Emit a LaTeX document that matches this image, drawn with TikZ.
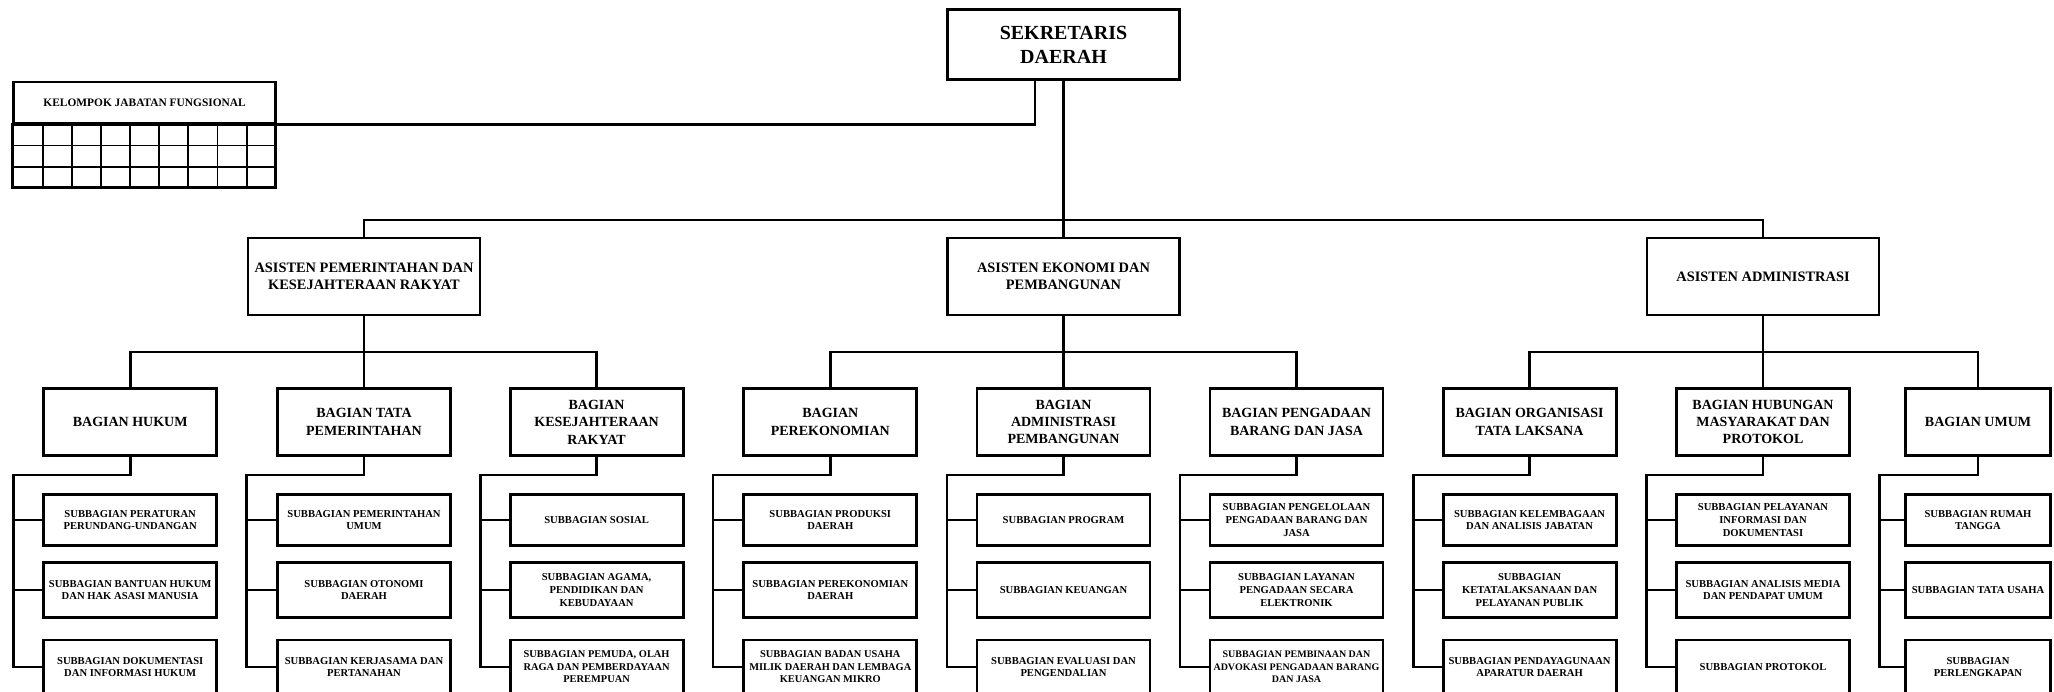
\documentclass[tikz,border=0pt]{standalone}
\usepackage{fontspec}
\setmainfont{Liberation Serif}
\usetikzlibrary{calc}
\tikzset{
  lw/.style={line width=2.8pt},
  box/.style={draw, lw, align=center, inner sep=1pt, font=\bfseries},
  sekbox/.style={box, minimum width=232pt, minimum height=70pt, font=\bfseries\fontsize{20}{24}\selectfont},
  astbox/.style={box, minimum width=232pt, minimum height=77pt, font=\bfseries\fontsize{14.4}{17.6}\selectfont},
  bagbox/.style={box, minimum width=173pt, minimum height=67pt, font=\bfseries\fontsize{14}{17.4}\selectfont},
  subbox/.style={box, minimum width=173pt, font=\bfseries\fontsize{10.6}{12.8}\selectfont},
  sa/.style={subbox, minimum height=51pt},
  sb/.style={subbox, minimum height=55pt},
  sc/.style={subbox, minimum height=54pt},
  umw/.style={minimum width=145pt},
  kjfbox/.style={box, minimum width=261.5pt, minimum height=41pt, font=\bfseries\fontsize{11.4}{12}\selectfont},
  conn/.style={lw},
  grid/.style={line width=1.6pt},
}
\begin{document}
\begin{tikzpicture}[x=1pt,y=-1pt]
\useasboundingbox (0,0) rectangle (2054,692);
\clip (0,0) rectangle (2054,692);
\fill[white] (0,0) rectangle (2054,692);

% top
\node[sekbox] (sekda) at (1063.5,44.5) {SEKRETARIS\\DAERAH};
\node[kjfbox] (kjf) at (144.6,102.5) {KELOMPOK JABATAN FUNGSIONAL};
\draw[grid] (kjf.south west) rectangle (275.4,187.9);
\foreach \y in {145.7,167.3} \draw[grid] (13.9,\y) -- (275.4,\y);
\foreach \x in {42.9,71.9,100.9,129.9,158.9,187.9,217.4,246.9} \draw[grid] (\x,124.3) -- (\x,187.9);
\draw[lw] (kjf.south west) rectangle (275.4,187.9);

% asisten
\node[astbox] (ast1) at (364,276.5) {ASISTEN PEMERINTAHAN DAN\\KESEJAHTERAAN RAKYAT};
\node[astbox] (ast2) at (1063.5,276.5) {ASISTEN EKONOMI DAN\\PEMBANGUNAN};
\node[astbox] (ast3) at (1763,276.5) {ASISTEN ADMINISTRASI};

% bagian
\node[bagbox] (b1) at (130.2,422) {BAGIAN HUKUM};
\node[bagbox] (b2) at (364,422) {BAGIAN TATA\\PEMERINTAHAN};
\node[bagbox] (b3) at (596.6,422) {BAGIAN\\KESEJAHTERAAN\\RAKYAT};
\node[bagbox] (b4) at (830.3,422) {BAGIAN\\PEREKONOMIAN};
\node[bagbox] (b5) at (1063.5,422) {BAGIAN\\ADMINISTRASI\\PEMBANGUNAN};
\node[bagbox] (b6) at (1296.5,422) {BAGIAN PENGADAAN\\BARANG DAN JASA};
\node[bagbox] (b7) at (1529.6,422) {BAGIAN ORGANISASI\\TATA LAKSANA};
\node[bagbox] (b8) at (1763,422) {BAGIAN HUBUNGAN\\MASYARAKAT DAN\\PROTOKOL};
\node[bagbox, umw] (b9) at (1978,422) {BAGIAN UMUM};

% subbagian
\node[sa] (s11) at (130.2,520) {SUBBAGIAN PERATURAN\\PERUNDANG-UNDANGAN};
\node[sb] (s12) at (130.2,590) {SUBBAGIAN BANTUAN HUKUM\\DAN HAK ASASI MANUSIA};
\node[sc] (s13) at (130.2,667) {SUBBAGIAN DOKUMENTASI\\DAN INFORMASI HUKUM};

\node[sa] (s21) at (364,520) {SUBBAGIAN PEMERINTAHAN\\UMUM};
\node[sb] (s22) at (364,590) {SUBBAGIAN OTONOMI\\DAERAH};
\node[sc] (s23) at (364,667) {SUBBAGIAN KERJASAMA DAN\\PERTANAHAN};

\node[sa] (s31) at (596.6,520) {SUBBAGIAN SOSIAL};
\node[sb] (s32) at (596.6,590) {SUBBAGIAN AGAMA,\\PENDIDIKAN DAN\\KEBUDAYAAN};
\node[sc, font=\bfseries\fontsize{10.4}{12.6}\selectfont] (s33) at (596.6,667) {SUBBAGIAN PEMUDA, OLAH\\RAGA DAN PEMBERDAYAAN\\PEREMPUAN};

\node[sa] (s41) at (830.3,520) {SUBBAGIAN PRODUKSI\\DAERAH};
\node[sb] (s42) at (830.3,590) {SUBBAGIAN PEREKONOMIAN\\DAERAH};
\node[sc, font=\bfseries\fontsize{10.4}{12.6}\selectfont] (s43) at (830.3,667) {SUBBAGIAN BADAN USAHA\\MILIK DAERAH DAN LEMBAGA\\KEUANGAN MIKRO};

\node[sa] (s51) at (1063.5,520) {SUBBAGIAN PROGRAM};
\node[sb] (s52) at (1063.5,590) {SUBBAGIAN KEUANGAN};
\node[sc] (s53) at (1063.5,667) {SUBBAGIAN EVALUASI DAN\\PENGENDALIAN};

\node[sa] (s61) at (1296.5,520) {SUBBAGIAN PENGELOLAAN\\PENGADAAN BARANG DAN\\JASA};
\node[sb] (s62) at (1296.5,590) {SUBBAGIAN LAYANAN\\PENGADAAN SECARA\\ELEKTRONIK};
\node[sc, font=\bfseries\fontsize{10}{12.6}\selectfont] (s63) at (1296.5,667) {SUBBAGIAN PEMBINAAN DAN\\ADVOKASI PENGADAAN BARANG\\DAN JASA};

\node[sa] (s71) at (1529.6,520) {SUBBAGIAN KELEMBAGAAN\\DAN ANALISIS JABATAN};
\node[sb] (s72) at (1529.6,590) {SUBBAGIAN\\KETATALAKSANAAN DAN\\PELAYANAN PUBLIK};
\node[sc] (s73) at (1529.6,667) {SUBBAGIAN PENDAYAGUNAAN\\APARATUR DAERAH};

\node[sa] (s81) at (1763,520) {SUBBAGIAN PELAYANAN\\INFORMASI DAN\\DOKUMENTASI};
\node[sb] (s82) at (1763,590) {SUBBAGIAN ANALISIS MEDIA\\DAN PENDAPAT UMUM};
\node[sc] (s83) at (1763,667) {SUBBAGIAN PROTOKOL};

\node[sa, umw] (s91) at (1978,520) {SUBBAGIAN RUMAH\\TANGGA};
\node[sb, umw] (s92) at (1978,590) {SUBBAGIAN TATA USAHA};
\node[sc, umw] (s93) at (1978,667) {SUBBAGIAN\\PERLENGKAPAN};

% connectors top
\coordinate (kjflink) at ([xshift=-28.5pt]sekda.south);
\draw[conn] (kjf.south east) -| (kjflink);
\coordinate (h1) at (1063.5,220);
\draw[conn] (sekda.south) -- (ast2.north);
\draw[conn] (ast1.north) |- (h1) -| (ast3.north);

% asisten to bagian
\coordinate (g1) at (364,352);
\coordinate (g2) at (1063.5,352);
\coordinate (g3) at (1763,352);
\draw[conn] (ast1.south) -- (b2.north);
\draw[conn] (b1.north) |- (g1) -| (b3.north);
\draw[conn] (ast2.south) -- (b5.north);
\draw[conn] (b4.north) |- (g2) -| (b6.north);
\draw[conn] (ast3.south) -- (b8.north);
\draw[conn] (b7.north) |- (g3) -| (b9.north);

% bagian to subbagian
\foreach \i/\bx in {1/13.4,2/246.4,3/480.8,4/713,5/947,6/1180,7/1413.5,8/1646.5,9/1879.6}{
  \coordinate (bus\i) at (\bx,475);
  \draw[conn] (b\i.south) |- (bus\i) |- (s\i3.west);
  \draw[conn] (bus\i |- s\i1.west) -- (s\i1.west);
  \draw[conn] (bus\i |- s\i2.west) -- (s\i2.west);
}
\end{tikzpicture}
\end{document}
